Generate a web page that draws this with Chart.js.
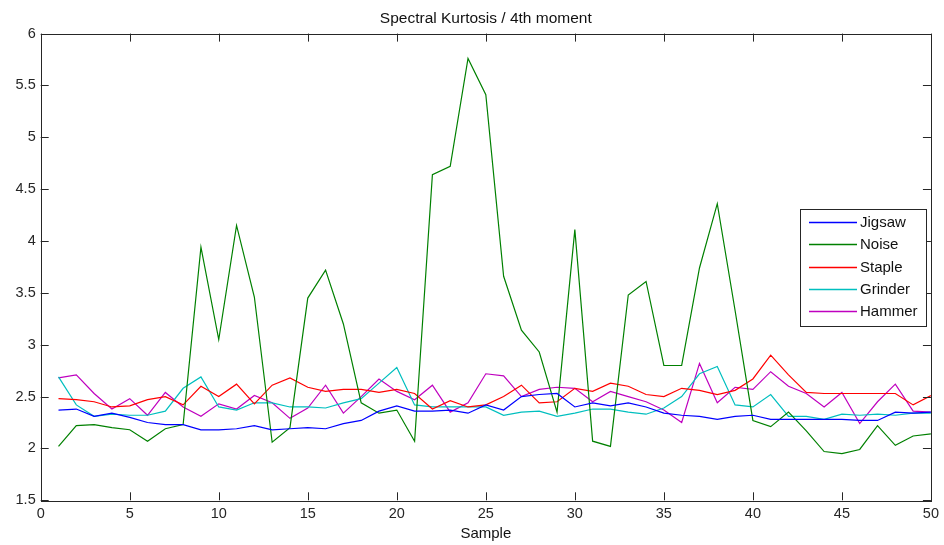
<!DOCTYPE html>
<html>
<head>
<meta charset="utf-8">
<script src="https://cdn.jsdelivr.net/npm/chart.js@4/dist/chart.umd.min.js"></script>
<style>
  html, body { margin: 0; padding: 0; background: #fff; }
  canvas { display: block; }
</style>
</head>
<body>
<canvas id="chart" width="944" height="545"></canvas>
<script>
// samples 1..50
const samples = Array.from({ length: 50 }, (_, i) => i + 1)

const jigsaw = [2.37, 2.38, 2.31, 2.34, 2.30, 2.25, 2.23, 2.23, 2.18, 2.18,
  2.19, 2.22, 2.18, 2.19, 2.20, 2.19, 2.24, 2.27, 2.36, 2.41,
  2.36, 2.36, 2.37, 2.34, 2.42, 2.37, 2.50, 2.52, 2.53, 2.40,
  2.44, 2.41, 2.44, 2.40, 2.34, 2.32, 2.31, 2.28, 2.31, 2.32,
  2.28, 2.28, 2.28, 2.28, 2.28, 2.27, 2.27, 2.35, 2.34, 2.35]

const noise = [2.02, 2.22, 2.23, 2.20, 2.18, 2.07, 2.19, 2.23, 3.94, 3.05,
  4.15, 3.46, 2.06, 2.20, 3.45, 3.72, 3.20, 2.44, 2.34, 2.37,
  2.07, 4.64, 4.72, 5.76, 5.41, 3.66, 3.14, 2.93, 2.35, 4.11,
  2.07, 2.02, 3.48, 3.61, 2.80, 2.80, 3.74, 4.36, 3.33, 2.27,
  2.21, 2.35, 2.17, 1.97, 1.95, 1.99, 2.22, 2.03, 2.12, 2.14]

const staple = [2.48, 2.47, 2.45, 2.40, 2.41, 2.47, 2.50, 2.42, 2.60, 2.50,
  2.62, 2.43, 2.61, 2.68, 2.59, 2.55, 2.57, 2.57, 2.54, 2.57,
  2.53, 2.38, 2.46, 2.40, 2.42, 2.50, 2.61, 2.44, 2.45, 2.58,
  2.55, 2.63, 2.60, 2.52, 2.50, 2.58, 2.56, 2.52, 2.56, 2.67,
  2.90, 2.71, 2.54, 2.53, 2.53, 2.53, 2.53, 2.53, 2.42, 2.51]

const grinder = [2.69, 2.42, 2.31, 2.33, 2.32, 2.32, 2.36, 2.58, 2.69, 2.40,
  2.37, 2.44, 2.44, 2.40, 2.40, 2.39, 2.44, 2.48, 2.63, 2.78,
  2.42, 2.40, 2.40, 2.40, 2.40, 2.32, 2.35, 2.36, 2.31, 2.34,
  2.38, 2.38, 2.35, 2.33, 2.39, 2.50, 2.72, 2.79, 2.42, 2.40,
  2.52, 2.31, 2.31, 2.28, 2.33, 2.32, 2.33, 2.32, 2.34, 2.34]

const hammer = [2.68, 2.71, 2.53, 2.38, 2.48, 2.32, 2.54, 2.40, 2.31, 2.43,
  2.38, 2.51, 2.44, 2.29, 2.39, 2.61, 2.34, 2.50, 2.67, 2.55,
  2.47, 2.61, 2.35, 2.44, 2.72, 2.70, 2.50, 2.57, 2.59, 2.58,
  2.45, 2.55, 2.50, 2.45, 2.37, 2.25, 2.82, 2.44, 2.59, 2.57,
  2.74, 2.60, 2.53, 2.40, 2.54, 2.24, 2.45, 2.62, 2.36, 2.35]

const seriesNames = ['Jigsaw', 'Noise', 'Staple', 'Grinder', 'Hammer']
const seriesColors = ['#0000ff', '#008000', '#ff0000', '#00bfbf', '#bf00bf']
const seriesValues = [jigsaw, noise, staple, grinder, hammer]

const FONT = 'Liberation Sans, Arial, Helvetica, sans-serif'
const AXIS = '#262626'

// MATLAB style: inward ticks on all four sides, plus the box
const matlabAxes = {
  id: 'matlabAxes',
  afterLayout (chart) {
    // centre the title over the plot area, like MATLAB does
    if (chart.titleBlock) {
      chart.titleBlock.left = chart.chartArea.left
      chart.titleBlock.right = chart.chartArea.right
    }
  },
  afterDatasetsDraw (chart) {
    const { ctx, chartArea: a, scales } = chart
    const len = 8
    ctx.save()
    ctx.strokeStyle = AXIS
    ctx.lineWidth = 1
    ctx.beginPath()
    scales.x.ticks.forEach(t => {
      const px = Math.round(scales.x.getPixelForValue(t.value)) + 0.5
      ctx.moveTo(px, a.bottom); ctx.lineTo(px, a.bottom - len)
      ctx.moveTo(px, a.top); ctx.lineTo(px, a.top + len)
    })
    scales.y.ticks.forEach(t => {
      const py = Math.round(scales.y.getPixelForValue(t.value)) + 0.5
      ctx.moveTo(a.left, py); ctx.lineTo(a.left + len, py)
      ctx.moveTo(a.right, py); ctx.lineTo(a.right - len, py)
    })
    ctx.stroke()
    ctx.strokeRect(Math.round(a.left) + 0.5, Math.round(a.top) + 0.5,
      Math.round(a.right - a.left), Math.round(a.bottom - a.top))
    ctx.restore()
  }
}

// legend box inside the axes, upper right
const boxLegend = {
  id: 'boxLegend',
  afterDraw (chart) {
    const { ctx } = chart
    const x0 = 800.5
    const y0 = 209.5
    const w = 126
    const h = 117
    ctx.save()
    ctx.fillStyle = '#fff'
    ctx.fillRect(x0, y0, w, h)
    ctx.strokeStyle = AXIS
    ctx.lineWidth = 1
    ctx.strokeRect(x0, y0, w, h)
    ctx.font = '15px ' + FONT
    ctx.textBaseline = 'middle'
    ctx.textAlign = 'left'
    chart.data.datasets.forEach((ds, i) => {
      const y = Math.round(222 + i * 22.3) + 0.5
      ctx.beginPath()
      ctx.strokeStyle = seriesColors[i]
      ctx.lineWidth = 1.5
      ctx.moveTo(809, y)
      ctx.lineTo(857, y)
      ctx.stroke()
      ctx.fillStyle = '#111'
      ctx.fillText(ds.label, 860, y)
    })
    ctx.restore()
  }
}

const ctx = document.getElementById('chart').getContext('2d')

// eslint-disable-next-line
new Chart(ctx, {
  type: 'line',
  data: {
    datasets: seriesNames.map((name, k) => ({
      label: name,
      data: samples.map((s, i) => ({ x: s, y: seriesValues[k][i] })),
      borderColor: seriesColors[k],
      backgroundColor: seriesColors[k],
      borderWidth: 1.2,
      pointRadius: 0,
      tension: 0,
      fill: false
    }))
  },
  options: {
    responsive: false,
    animation: false,
    layout: { padding: { left: 0, right: 12, top: 0, bottom: 0 } },
    plugins: {
      legend: { display: false },
      tooltip: { enabled: false },
      title: {
        display: true,
        text: 'Spectral Kurtosis / 4th moment',
        color: '#111',
        font: { family: FONT, size: 15.5, weight: 'normal' },
        padding: { top: 9, bottom: 6 }
      }
    },
    scales: {
      x: {
        type: 'linear',
        min: 0,
        max: 50,
        border: { display: false },
        grid: { display: false, drawTicks: false },
        ticks: {
          stepSize: 5,
          color: '#262626',
          padding: 5,
          font: { family: FONT, size: 14.5 },
          callback: v => String(v)
        },
        title: {
          display: true,
          text: 'Sample',
          color: '#111',
          padding: { top: 0, bottom: 2 },
          font: { family: FONT, size: 15 }
        },
        afterFit (scale) { scale.height = 44.7 }
      },
      y: {
        min: 1.5,
        max: 6,
        border: { display: false },
        grid: { display: false, drawTicks: false },
        ticks: {
          stepSize: 0.5,
          color: '#262626',
          padding: 5,
          font: { family: FONT, size: 14.5 },
          callback: v => String(v)
        },
        afterFit (scale) { scale.width = 40.7 }
      }
    }
  },
  plugins: [matlabAxes, boxLegend]
})
</script>
</body>
</html>
